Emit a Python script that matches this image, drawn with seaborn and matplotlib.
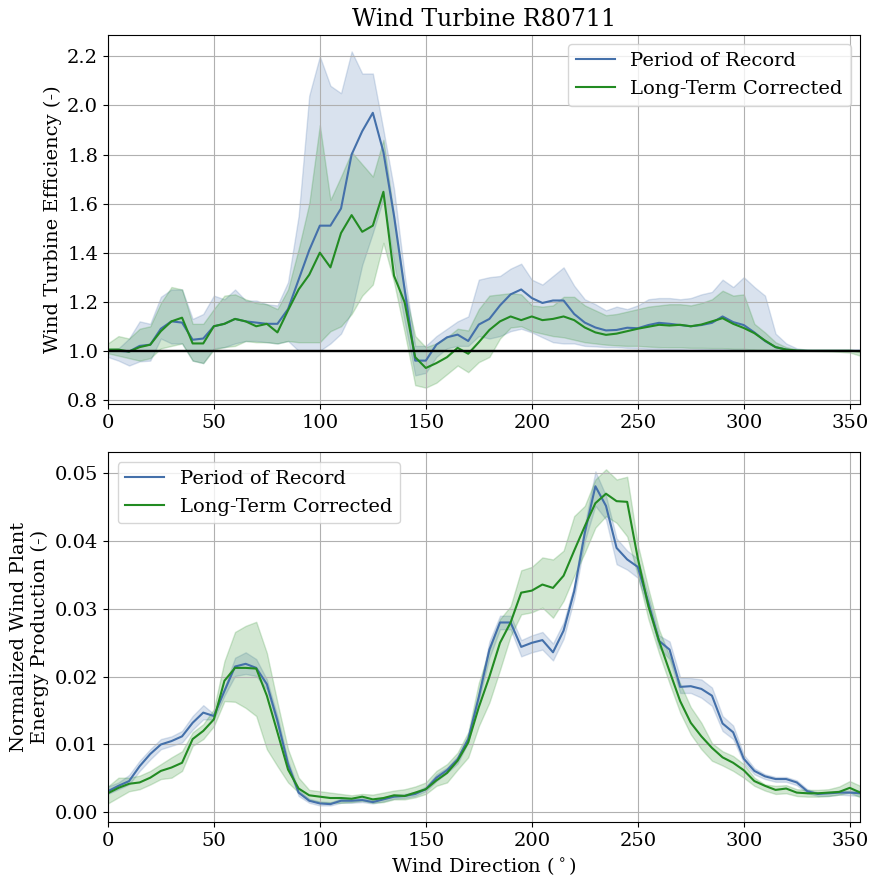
import numpy as np
import pandas as pd
import seaborn as sns
import matplotlib
matplotlib.use("Agg")
import matplotlib.pyplot as plt

# wind direction bins (deg)
directions = list(range(0, 360, 5))

# --- turbine efficiency (top panel) ---
por_eff = [1.00, 1.00, 0.997, 1.02, 1.025, 1.09, 1.12, 1.115, 1.045, 1.05,
           1.10, 1.11, 1.13, 1.12, 1.115, 1.11, 1.11, 1.17, 1.29, 1.41,
           1.51, 1.51, 1.58, 1.80, 1.895, 1.97, 1.81, 1.55, 1.25, 0.96,
           0.96, 1.025, 1.055, 1.066, 1.04, 1.107, 1.13, 1.185, 1.23, 1.25,
           1.215, 1.195, 1.205, 1.205, 1.15, 1.115, 1.095, 1.083, 1.085, 1.094,
           1.092, 1.105, 1.114, 1.11, 1.105, 1.10, 1.105, 1.114, 1.14, 1.117,
           1.105, 1.075, 1.04, 1.015, 1.005, 1.0, 1.0, 1.0, 1.0, 1.0,
           1.0, 1.0]
por_eff_hi = [1.008, 1.01, 1.05, 1.12, 1.11, 1.22, 1.25, 1.25, 1.13, 1.15,
              1.225, 1.21, 1.25, 1.205, 1.205, 1.19, 1.185, 1.28, 1.55, 2.04,
              2.20, 2.08, 2.05, 2.22, 2.13, 2.13, 1.90, 1.66, 1.31, 1.02,
              1.02, 1.06, 1.09, 1.12, 1.14, 1.29, 1.30, 1.305, 1.335, 1.355,
              1.29, 1.27, 1.305, 1.34, 1.265, 1.21, 1.19, 1.165, 1.18, 1.17,
              1.185, 1.21, 1.215, 1.215, 1.21, 1.215, 1.23, 1.24, 1.29, 1.26,
              1.30, 1.26, 1.225, 1.07, 1.03, 1.01, 1.004, 1.0, 1.0, 1.0,
              1.0, 1.0]
por_eff_lo = [0.975, 0.96, 0.94, 0.957, 0.96, 1.05, 1.03, 1.03, 0.96, 0.95,
              1.01, 1.015, 1.03, 1.04, 1.04, 1.035, 1.03, 1.04, 1.00, 1.00,
              1.00, 1.03, 1.07, 1.16, 1.35, 1.48, 1.62, 1.36, 1.12, 0.90,
              0.91, 0.975, 1.01, 1.02, 1.02, 1.06, 1.05, 1.06, 1.08, 1.09,
              1.075, 1.055, 1.035, 1.03, 1.03, 1.02, 1.018, 1.015, 1.015, 1.012,
              1.011, 1.008, 1.008, 1.005, 1.005, 1.003, 1.005, 1.005, 1.005, 1.004,
              1.004, 1.003, 1.001, 1.0, 1.0, 1.0, 1.0, 1.0, 1.0, 1.0,
              1.0, 1.0]

ltc_eff = [1.005, 1.005, 0.997, 1.015, 1.025, 1.08, 1.12, 1.135, 1.03, 1.03,
           1.10, 1.11, 1.13, 1.12, 1.10, 1.11, 1.075, 1.165, 1.25, 1.31,
           1.40, 1.34, 1.48, 1.553, 1.485, 1.51, 1.648, 1.306, 1.198, 0.974,
           0.93, 0.95, 0.974, 1.012, 0.988, 1.035, 1.085, 1.12, 1.14, 1.125,
           1.14, 1.125, 1.13, 1.14, 1.125, 1.095, 1.075, 1.065, 1.07, 1.08,
           1.09, 1.098, 1.106, 1.103, 1.106, 1.10, 1.107, 1.12, 1.133, 1.11,
           1.093, 1.072, 1.042, 1.015, 1.005, 1.001, 1.0, 1.0, 1.0, 1.0,
           1.0, 0.998]
ltc_eff_hi = [1.03, 1.06, 1.05, 1.09, 1.10, 1.195, 1.26, 1.25, 1.11, 1.11,
              1.17, 1.225, 1.23, 1.21, 1.195, 1.19, 1.17, 1.25, 1.415, 1.60,
              1.92, 1.615, 1.71, 1.81, 1.76, 1.71, 1.86, 1.55, 1.25, 1.06,
              1.015, 1.03, 1.055, 1.09, 1.083, 1.17, 1.225, 1.23, 1.235, 1.23,
              1.185, 1.18, 1.185, 1.22, 1.22, 1.185, 1.165, 1.145, 1.15, 1.16,
              1.17, 1.18, 1.185, 1.19, 1.19, 1.185, 1.195, 1.21, 1.245, 1.225,
              1.23, 1.11, 1.075, 1.035, 1.015, 1.006, 1.002, 1.0, 1.0, 1.0,
              1.0, 1.0]
ltc_eff_lo = [0.99, 0.98, 0.97, 0.96, 0.97, 1.01, 1.02, 1.03, 0.96, 0.95,
              1.005, 1.015, 1.02, 1.04, 1.035, 1.035, 1.03, 1.04, 1.035, 1.035,
              1.035, 1.08, 1.10, 1.15, 1.225, 1.27, 1.44, 1.28, 1.076, 0.86,
              0.85, 0.87, 0.905, 0.94, 0.913, 0.954, 0.975, 1.05, 1.095, 1.10,
              1.08, 1.07, 1.06, 1.055, 1.045, 1.035, 1.03, 1.025, 1.022, 1.02,
              1.02, 1.017, 1.015, 1.014, 1.014, 1.012, 1.012, 1.011, 1.011, 1.008,
              1.008, 1.005, 1.004, 1.003, 1.002, 1.0, 1.0, 0.999, 0.998, 0.996,
              0.993, 0.98]

# --- normalized energy production (bottom panel) ---
por_energy = [0.0031, 0.0039, 0.0046, 0.0068, 0.0086, 0.0100, 0.0105, 0.0112, 0.0132, 0.0147,
              0.0142, 0.0179, 0.0215, 0.0219, 0.0213, 0.0189, 0.0135, 0.0071, 0.0029, 0.0017,
              0.0013, 0.0012, 0.0017, 0.0017, 0.0018, 0.0015, 0.0019, 0.0023, 0.0024, 0.0027,
              0.0034, 0.0051, 0.0062, 0.0078, 0.0108, 0.0170, 0.0240, 0.0280, 0.0280, 0.0244,
              0.0250, 0.0254, 0.0236, 0.0268, 0.0326, 0.0412, 0.0481, 0.0452, 0.0390, 0.0373,
              0.0362, 0.0309, 0.0253, 0.0240, 0.0185, 0.0186, 0.0182, 0.0172, 0.0131, 0.0118,
              0.0079, 0.0061, 0.0053, 0.0049, 0.0049, 0.0044, 0.0031, 0.0027, 0.0028, 0.0029,
              0.0029, 0.0028]
por_energy_hi = [0.0038, 0.0044, 0.0055, 0.0076, 0.0093, 0.0108, 0.0112, 0.0120, 0.0142, 0.0158,
                 0.0145, 0.0184, 0.0228, 0.0236, 0.0226, 0.0196, 0.0142, 0.0076, 0.0033, 0.0020,
                 0.0016, 0.0015, 0.0020, 0.0020, 0.0021, 0.0018, 0.0022, 0.0026, 0.0027, 0.0030,
                 0.0038, 0.0056, 0.0066, 0.0083, 0.0113, 0.0178, 0.0252, 0.0290, 0.0290, 0.0254,
                 0.0261, 0.0266, 0.0249, 0.0280, 0.0335, 0.0424, 0.0503, 0.0467, 0.0404, 0.0386,
                 0.0374, 0.0319, 0.0261, 0.0252, 0.0199, 0.0198, 0.0196, 0.0184, 0.0142, 0.0128,
                 0.0085, 0.0065, 0.0056, 0.0052, 0.0052, 0.0047, 0.0034, 0.0029, 0.0030, 0.0032,
                 0.0032, 0.0032]
por_energy_lo = [0.0027, 0.0034, 0.0041, 0.0061, 0.0078, 0.0093, 0.0098, 0.0103, 0.0122, 0.0137,
                 0.0137, 0.0172, 0.0201, 0.0204, 0.0201, 0.0181, 0.0127, 0.0066, 0.0024, 0.0014,
                 0.0010, 0.0010, 0.0014, 0.0014, 0.0015, 0.0013, 0.0016, 0.0020, 0.0021, 0.0024,
                 0.0031, 0.0046, 0.0058, 0.0072, 0.0103, 0.0165, 0.0228, 0.0270, 0.0270, 0.0230,
                 0.0236, 0.0240, 0.0224, 0.0256, 0.0315, 0.0400, 0.0452, 0.0432, 0.0366, 0.0358,
                 0.0346, 0.0300, 0.0243, 0.0226, 0.0176, 0.0176, 0.0169, 0.0157, 0.0120, 0.0108,
                 0.0073, 0.0056, 0.0049, 0.0045, 0.0045, 0.0040, 0.0028, 0.0024, 0.0024, 0.0026,
                 0.0025, 0.0024]

ltc_energy = [0.0028, 0.0036, 0.0042, 0.0044, 0.0051, 0.0061, 0.0066, 0.0073, 0.0108, 0.0120,
              0.0137, 0.0194, 0.0213, 0.0213, 0.0212, 0.0172, 0.0118, 0.0063, 0.0035, 0.0025,
              0.0023, 0.0021, 0.0021, 0.0020, 0.0023, 0.0019, 0.0021, 0.0025, 0.0024, 0.0029,
              0.0034, 0.0047, 0.0058, 0.0076, 0.0103, 0.0155, 0.0200, 0.0250, 0.0280, 0.0324,
              0.0327, 0.0336, 0.0331, 0.0349, 0.0386, 0.0422, 0.0456, 0.0470, 0.0459, 0.0458,
              0.0375, 0.0304, 0.0253, 0.0208, 0.0164, 0.0132, 0.0112, 0.0095, 0.0081, 0.0073,
              0.0062, 0.0046, 0.0039, 0.0033, 0.0035, 0.0029, 0.0028, 0.0028, 0.0029, 0.0030,
              0.0036, 0.0029]
ltc_energy_hi = [0.0038, 0.0051, 0.0051, 0.0054, 0.0061, 0.0071, 0.0081, 0.0090, 0.0118, 0.0130,
                 0.0152, 0.0223, 0.0266, 0.0275, 0.0281, 0.0235, 0.0162, 0.0093, 0.0051, 0.0033,
                 0.0031, 0.0029, 0.0027, 0.0025, 0.0027, 0.0026, 0.0029, 0.0032, 0.0034, 0.0038,
                 0.0044, 0.0061, 0.0071, 0.0088, 0.0118, 0.0191, 0.0240, 0.0285, 0.0304, 0.0357,
                 0.0362, 0.0376, 0.0373, 0.0386, 0.0437, 0.0452, 0.0491, 0.0506, 0.0491, 0.0495,
                 0.0395, 0.0330, 0.0270, 0.0230, 0.0190, 0.0155, 0.0132, 0.0102, 0.0090, 0.0083,
                 0.0071, 0.0051, 0.0041, 0.0039, 0.0040, 0.0034, 0.0033, 0.0033, 0.0034, 0.0038,
                 0.0046, 0.0039]
ltc_energy_lo = [0.0013, 0.0022, 0.0031, 0.0034, 0.0041, 0.0049, 0.0051, 0.0061, 0.0098, 0.0108,
                 0.0127, 0.0164, 0.0163, 0.0154, 0.0142, 0.0093, 0.0068, 0.0044, 0.0029, 0.0018,
                 0.0015, 0.0014, 0.0014, 0.0015, 0.0017, 0.0014, 0.0015, 0.0019, 0.0019, 0.0022,
                 0.0027, 0.0039, 0.0044, 0.0063, 0.0081, 0.0127, 0.0162, 0.0210, 0.0260, 0.0292,
                 0.0295, 0.0302, 0.0287, 0.0312, 0.0349, 0.0383, 0.0420, 0.0437, 0.0427, 0.0407,
                 0.0350, 0.0285, 0.0235, 0.0190, 0.0147, 0.0115, 0.0093, 0.0076, 0.0069, 0.0061,
                 0.0051, 0.0039, 0.0032, 0.0027, 0.0028, 0.0024, 0.0023, 0.0023, 0.0024, 0.0026,
                 0.0029, 0.0022]

blue = '#4470AA'
green = 'forestgreen'


def long_form(lo, mid, hi):
    # three samples per bin -> median is the line, full range is the band
    return pd.DataFrame({
        'dir': directions * 3,
        'val': list(lo) + list(mid) + list(hi),
    })


plt.rcParams['font.family'] = 'serif'
plt.rcParams['font.serif'] = ['DejaVu Serif']
plt.rcParams['font.size'] = 14

fig, (ax1, ax2) = plt.subplots(2, 1, figsize=(8.77, 8.88), dpi=100)
fig.subplots_adjust(left=0.123, right=0.981, top=0.961, bottom=0.074, hspace=0.13)

kw = dict(x='dir', y='val', estimator='median', errorbar=('pi', 100))

sns.lineplot(data=long_form(por_eff_lo, por_eff, por_eff_hi), color=blue,
             label='Period of Record', ax=ax1, **kw)
sns.lineplot(data=long_form(ltc_eff_lo, ltc_eff, ltc_eff_hi), color=green,
             label='Long-Term Corrected', ax=ax1, **kw)
ax1.axhline(1.0, color='k', lw=1.7)
ax1.set_xlim(0, 355)
ax1.set_title('Wind Turbine R80711', fontsize=17)
ax1.set_xlabel('')
ax1.set_ylabel('Wind Turbine Efficiency (-)', fontsize=14)
ax1.grid(True)
ax1.legend(loc='upper right', fontsize=14)

sns.lineplot(data=long_form(por_energy_lo, por_energy, por_energy_hi), color=blue,
             label='Period of Record', ax=ax2, **kw)
sns.lineplot(data=long_form(ltc_energy_lo, ltc_energy, ltc_energy_hi), color=green,
             label='Long-Term Corrected', ax=ax2, **kw)
ax2.set_xlim(0, 355)
ax2.set_xlabel('Wind Direction ($^\\circ$)', fontsize=14)
ax2.set_ylabel('Normalized Wind Plant\nEnergy Production (-)', fontsize=14)
ax2.grid(True)
ax2.legend(loc='upper left', fontsize=14)

for ax in (ax1, ax2):
    ax.tick_params(labelsize=14)
    for s in ax.spines.values():
        s.set_color('k')

fig.savefig('out.png', dpi=100)
